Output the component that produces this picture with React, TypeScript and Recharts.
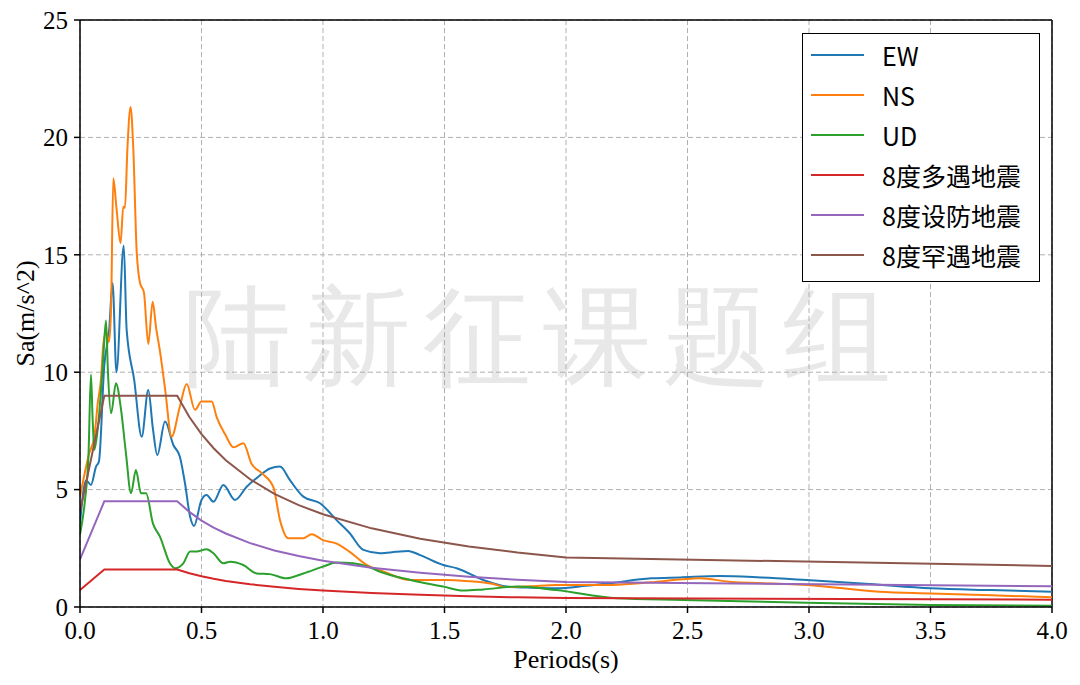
import { CartesianGrid, Label, Legend, Line, LineChart, ReferenceLine, XAxis, YAxis } from "recharts";

// periods (s) and Sa (m/s^2)
const EW_T = [0, 0.025, 0.045, 0.066, 0.078, 0.1, 0.12, 0.134, 0.15, 0.18, 0.192, 0.223, 0.254, 0.281, 0.3, 0.318, 0.35, 0.384, 0.411, 0.432, 0.453, 0.469, 0.5, 0.521, 0.549, 0.59, 0.638, 0.686, 0.734, 0.782, 0.823, 0.864, 0.919, 0.988, 1.056, 1.11, 1.166, 1.235, 1.3, 1.35, 1.4, 1.495, 1.55, 1.66, 1.756, 1.86, 1.96, 2.08, 2.18, 2.35, 2.47, 2.63, 2.8, 2.99, 3.25, 3.5, 3.75, 4.0];
const EW_V = [3.56, 5.4, 5.2, 5.98, 6.2, 10.3, 11.8, 13.8, 10.0, 15.4, 11.8, 9.67, 7.25, 9.24, 7.6, 6.47, 7.9, 6.9, 6.4, 5.27, 3.85, 3.45, 4.56, 4.77, 4.48, 5.2, 4.56, 5.12, 5.55, 5.9, 5.98, 5.4, 4.7, 4.42, 3.7, 3.14, 2.43, 2.29, 2.35, 2.39, 2.21, 1.79, 1.65, 1.15, 0.87, 0.82, 0.8, 0.9, 1.01, 1.22, 1.26, 1.32, 1.26, 1.15, 0.98, 0.8, 0.72, 0.65];

const NS_T = [0, 0.038, 0.059, 0.073, 0.086, 0.096, 0.107, 0.12, 0.128, 0.137, 0.15, 0.167, 0.178, 0.185, 0.195, 0.208, 0.219, 0.233, 0.247, 0.263, 0.281, 0.299, 0.313, 0.329, 0.35, 0.377, 0.41, 0.439, 0.473, 0.5, 0.542, 0.562, 0.6, 0.631, 0.672, 0.706, 0.748, 0.796, 0.823, 0.857, 0.919, 0.953, 1.0, 1.056, 1.11, 1.18, 1.25, 1.36, 1.5, 1.6, 1.69, 1.756, 1.85, 1.96, 2.19, 2.35, 2.48, 2.55, 2.67, 2.85, 2.99, 3.29, 3.5, 3.75, 4.0];
const NS_V = [4.7, 6.55, 7.25, 8.67, 9.67, 11.2, 11.7, 11.3, 12.8, 18.26, 17.0, 15.5, 17.05, 17.0, 19.5, 21.3, 19.6, 15.2, 13.8, 13.4, 11.2, 13.0, 11.9, 10.9, 9.3, 7.25, 8.5, 9.5, 8.4, 8.75, 8.75, 8.1, 7.3, 6.8, 6.97, 6.1, 5.7, 5.1, 3.7, 2.93, 2.93, 3.1, 2.85, 2.7, 2.35, 1.79, 1.5, 1.15, 1.15, 1.1, 1.0, 0.85, 0.88, 0.94, 0.94, 1.05, 1.18, 1.22, 1.08, 1.0, 0.94, 0.65, 0.58, 0.5, 0.41];

const UD_T = [0, 0.02, 0.035, 0.045, 0.052, 0.059, 0.073, 0.085, 0.095, 0.107, 0.115, 0.128, 0.148, 0.169, 0.189, 0.21, 0.23, 0.251, 0.272, 0.3, 0.329, 0.37, 0.391, 0.425, 0.453, 0.48, 0.521, 0.549, 0.59, 0.617, 0.672, 0.727, 0.782, 0.85, 0.919, 1.0, 1.056, 1.125, 1.193, 1.235, 1.36, 1.495, 1.577, 1.66, 1.8, 1.96, 2.21, 2.48, 2.99, 3.5, 4.0];
const UD_V = [3.1, 4.5, 6.5, 9.9, 8.0, 6.7, 7.6, 9.0, 10.5, 12.2, 10.0, 8.25, 9.53, 8.4, 6.55, 4.84, 5.83, 4.84, 4.84, 3.56, 3.0, 1.86, 1.65, 1.86, 2.36, 2.36, 2.46, 2.29, 1.86, 1.93, 1.79, 1.43, 1.4, 1.22, 1.43, 1.72, 1.9, 1.86, 1.69, 1.5, 1.15, 0.87, 0.7, 0.75, 0.87, 0.72, 0.37, 0.3, 0.18, 0.09, 0.05];

// design spectra, 8 degree zone
const CODE_T = [0, 0.1, 0.4, 0.45, 0.5, 0.55, 0.6, 0.7, 0.8, 0.9, 1.0, 1.2, 1.4, 1.6, 1.8, 2.0, 4.0];
const FREQUENT_V = [0.72, 1.6, 1.6, 1.44, 1.31, 1.2, 1.11, 0.97, 0.86, 0.77, 0.7, 0.6, 0.52, 0.46, 0.41, 0.38, 0.31];
const DESIGN_V = [2.03, 4.5, 4.5, 4.05, 3.68, 3.38, 3.13, 2.72, 2.41, 2.17, 1.97, 1.67, 1.46, 1.29, 1.16, 1.06, 0.88];
const RARE_V = [4.05, 9.0, 9.0, 8.09, 7.36, 6.76, 6.25, 5.44, 4.82, 4.34, 3.95, 3.35, 2.91, 2.58, 2.32, 2.11, 1.75];

const X_TICKS = [0, 0.5, 1, 1.5, 2, 2.5, 3, 3.5, 4];
const Y_TICKS = [0, 5, 10, 15, 20, 25];

const pts = (ts: number[], vs: number[]) => ts.map((t, i) => ({ t, v: vs[i] }));

const SERIES = [
  { name: "EW", color: "#1f77b4", data: pts(EW_T, EW_V), curve: "monotone" },
  { name: "NS", color: "#ff7f0e", data: pts(NS_T, NS_V), curve: "monotone" },
  { name: "UD", color: "#2ca02c", data: pts(UD_T, UD_V), curve: "monotone" },
  { name: "8度多遇地震", color: "#d62728", data: pts(CODE_T, FREQUENT_V), curve: "linear" },
  { name: "8度设防地震", color: "#9467bd", data: pts(CODE_T, DESIGN_V), curve: "linear" },
  { name: "8度罕遇地震", color: "#8c564b", data: pts(CODE_T, RARE_V), curve: "linear" },
];

const serif = "'Liberation Serif', 'Times New Roman', serif";
const tickStyle = { fontFamily: serif, fontSize: 25, fill: "#000" };

function LegendBox() {
  return (
    <div
      style={{
        width: 238,
        height: 249,
        boxSizing: "border-box",
        border: "1.5px solid #000",
        background: "#fff",
        paddingTop: 1,
      }}
    >
      {SERIES.map((s) => (
        <div key={s.name} style={{ height: 40, display: "flex", alignItems: "center" }}>
          <div style={{ marginLeft: 8, width: 53, height: 2.5, background: s.color }} />
          <span
            style={{
              marginLeft: 18,
              fontFamily: "'Noto Sans CJK SC', 'Noto Sans', sans-serif",
              fontSize: 25,
              color: "#000",
              lineHeight: "40px",
            }}
          >
            {s.name}
          </span>
        </div>
      ))}
    </div>
  );
}

export default function App() {
  return (
    <div style={{ position: "absolute", left: 0, top: 0, width: 1080, height: 685, background: "#fff" }}>
      <div
        style={{
          position: "absolute",
          left: 543,
          top: 338,
          transform: "translate(-50%, -50%)",
          whiteSpace: "nowrap",
          fontFamily: "serif",
          fontSize: 108,
          letterSpacing: 12,
          color: "#e8e8e8",
        }}
      >
        陆新征课题组
      </div>
      <div style={{ position: "absolute", left: 0, top: 0 }}>
        <LineChart width={1080} height={685} margin={{ top: 20, right: 28, bottom: 0, left: 0 }}>
          <CartesianGrid stroke="#b0b0b0" strokeDasharray="5 3" strokeWidth={1} />
          <XAxis
            dataKey="t"
            type="number"
            domain={[0, 4]}
            ticks={X_TICKS}
            tickFormatter={(v: number) => v.toFixed(1)}
            allowDataOverflow
            height={78}
            tickSize={6}
            tickMargin={8}
            stroke="#000"
            strokeWidth={1.5}
            tick={tickStyle}
          >
            <Label
              value="Periods(s)"
              position="insideBottom"
              offset={17}
              style={{ fontFamily: serif, fontSize: 26, fill: "#000" }}
            />
          </XAxis>
          <YAxis
            type="number"
            domain={[0, 25]}
            ticks={Y_TICKS}
            allowDataOverflow
            width={80}
            tickSize={6}
            tickMargin={6}
            stroke="#000"
            strokeWidth={1.5}
            tick={tickStyle}
          >
            <Label
              value="Sa(m/s^2)"
              angle={-90}
              position="insideLeft"
              offset={25}
              style={{ fontFamily: serif, fontSize: 26, fill: "#000", textAnchor: "middle" }}
            />
          </YAxis>
          <ReferenceLine y={25} stroke="#000" strokeWidth={1.5} />
          <ReferenceLine x={4} stroke="#000" strokeWidth={1.5} />
          {SERIES.map((s) => (
            <Line
              key={s.name}
              data={s.data}
              dataKey="v"
              name={s.name}
              type={s.curve as "monotone" | "linear"}
              stroke={s.color}
              strokeWidth={2}
              dot={false}
              activeDot={false}
              isAnimationActive={false}
            />
          ))}
          <Legend
            content={() => <LegendBox />}
            layout="vertical"
            align="center"
            verticalAlign="middle"
            wrapperStyle={{ left: 802, top: 33, width: 238, height: 249 }}
          />
        </LineChart>
      </div>
    </div>
  );
}
